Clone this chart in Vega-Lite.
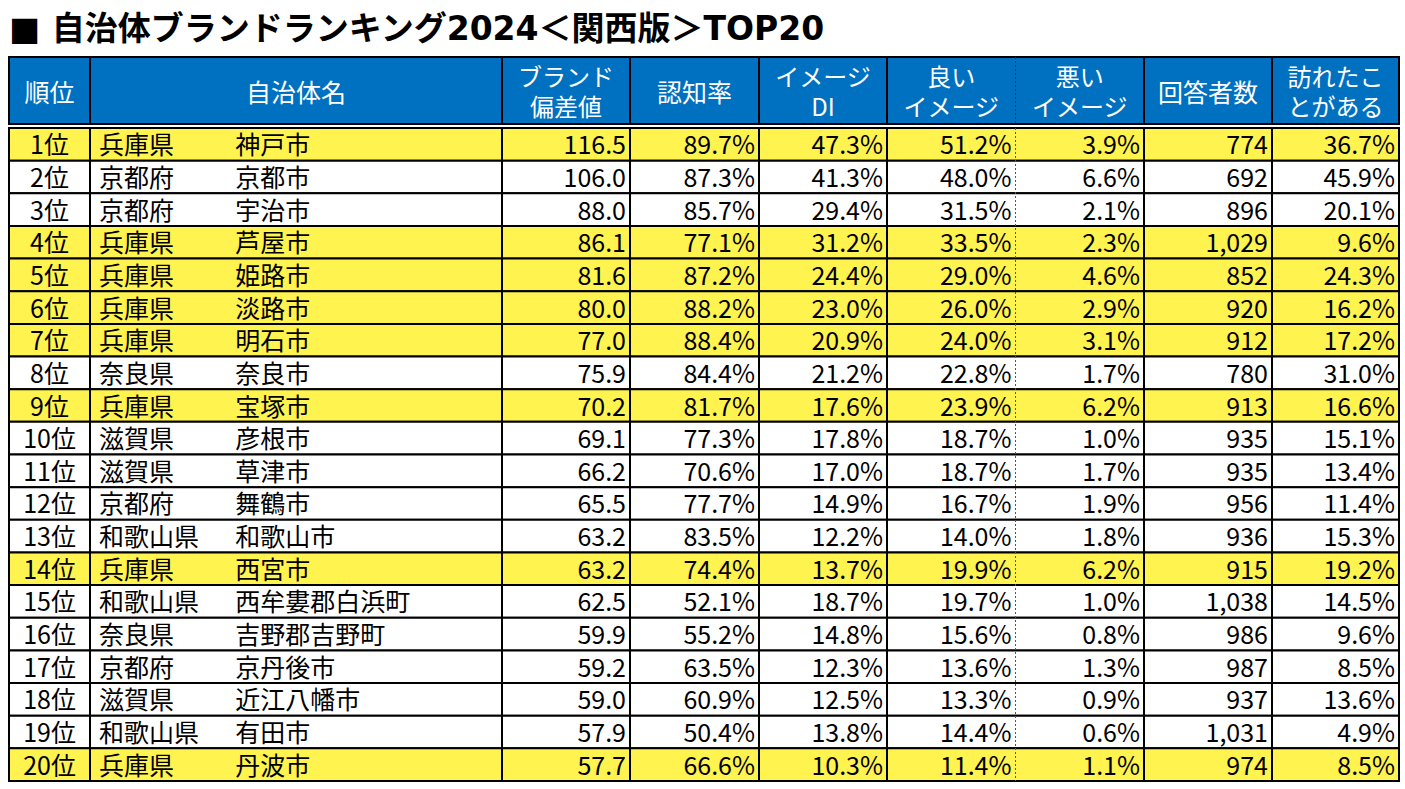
{
  "$schema": "https://vega.github.io/schema/vega-lite/v6.json",
  "padding": {"left": 7, "top": 13, "right": 0, "bottom": 0},
  "title": {"text": "■ 自治体ブランドランキング2024＜関西版＞TOP20", "anchor": "start", "frame": "group", "font": "DejaVu Sans, Noto Sans CJK JP", "fontSize": 33, "fontWeight": "bold", "color": "black", "offset": 9, "limit": 1300},
  "datasets": {
    "rows": [
      {"rank": 1, "pref": "兵庫県", "city": "神戸市", "brand": 116.5, "awareness": 0.897, "di": 0.473, "good": 0.512, "bad": 0.039, "n": 774, "visited": 0.367},
      {"rank": 2, "pref": "京都府", "city": "京都市", "brand": 106.0, "awareness": 0.873, "di": 0.413, "good": 0.480, "bad": 0.066, "n": 692, "visited": 0.459},
      {"rank": 3, "pref": "京都府", "city": "宇治市", "brand": 88.0, "awareness": 0.857, "di": 0.294, "good": 0.315, "bad": 0.021, "n": 896, "visited": 0.201},
      {"rank": 4, "pref": "兵庫県", "city": "芦屋市", "brand": 86.1, "awareness": 0.771, "di": 0.312, "good": 0.335, "bad": 0.023, "n": 1029, "visited": 0.096},
      {"rank": 5, "pref": "兵庫県", "city": "姫路市", "brand": 81.6, "awareness": 0.872, "di": 0.244, "good": 0.290, "bad": 0.046, "n": 852, "visited": 0.243},
      {"rank": 6, "pref": "兵庫県", "city": "淡路市", "brand": 80.0, "awareness": 0.882, "di": 0.230, "good": 0.260, "bad": 0.029, "n": 920, "visited": 0.162},
      {"rank": 7, "pref": "兵庫県", "city": "明石市", "brand": 77.0, "awareness": 0.884, "di": 0.209, "good": 0.240, "bad": 0.031, "n": 912, "visited": 0.172},
      {"rank": 8, "pref": "奈良県", "city": "奈良市", "brand": 75.9, "awareness": 0.844, "di": 0.212, "good": 0.228, "bad": 0.017, "n": 780, "visited": 0.310},
      {"rank": 9, "pref": "兵庫県", "city": "宝塚市", "brand": 70.2, "awareness": 0.817, "di": 0.176, "good": 0.239, "bad": 0.062, "n": 913, "visited": 0.166},
      {"rank": 10, "pref": "滋賀県", "city": "彦根市", "brand": 69.1, "awareness": 0.773, "di": 0.178, "good": 0.187, "bad": 0.010, "n": 935, "visited": 0.151},
      {"rank": 11, "pref": "滋賀県", "city": "草津市", "brand": 66.2, "awareness": 0.706, "di": 0.170, "good": 0.187, "bad": 0.017, "n": 935, "visited": 0.134},
      {"rank": 12, "pref": "京都府", "city": "舞鶴市", "brand": 65.5, "awareness": 0.777, "di": 0.149, "good": 0.167, "bad": 0.019, "n": 956, "visited": 0.114},
      {"rank": 13, "pref": "和歌山県", "city": "和歌山市", "brand": 63.2, "awareness": 0.835, "di": 0.122, "good": 0.140, "bad": 0.018, "n": 936, "visited": 0.153},
      {"rank": 14, "pref": "兵庫県", "city": "西宮市", "brand": 63.2, "awareness": 0.744, "di": 0.137, "good": 0.199, "bad": 0.062, "n": 915, "visited": 0.192},
      {"rank": 15, "pref": "和歌山県", "city": "西牟婁郡白浜町", "brand": 62.5, "awareness": 0.521, "di": 0.187, "good": 0.197, "bad": 0.010, "n": 1038, "visited": 0.145},
      {"rank": 16, "pref": "奈良県", "city": "吉野郡吉野町", "brand": 59.9, "awareness": 0.552, "di": 0.148, "good": 0.156, "bad": 0.008, "n": 986, "visited": 0.096},
      {"rank": 17, "pref": "京都府", "city": "京丹後市", "brand": 59.2, "awareness": 0.635, "di": 0.123, "good": 0.136, "bad": 0.013, "n": 987, "visited": 0.085},
      {"rank": 18, "pref": "滋賀県", "city": "近江八幡市", "brand": 59.0, "awareness": 0.609, "di": 0.125, "good": 0.133, "bad": 0.009, "n": 937, "visited": 0.136},
      {"rank": 19, "pref": "和歌山県", "city": "有田市", "brand": 57.9, "awareness": 0.504, "di": 0.138, "good": 0.144, "bad": 0.006, "n": 1031, "visited": 0.049},
      {"rank": 20, "pref": "兵庫県", "city": "丹波市", "brand": 57.7, "awareness": 0.666, "di": 0.103, "good": 0.114, "bad": 0.011, "n": 974, "visited": 0.085}
    ]
  },
  "spacing": 0,
  "vconcat": [
    {
      "spacing": 0,
      "bounds": "flush",
      "hconcat": [
        {"width": 81, "height": 67, "data": {"values": [{}]}, "view": {"fill": "#0070C0", "stroke": "black", "strokeWidth": 2},
         "mark": {"type": "text", "text": "順位", "color": "white", "fontSize": 25, "font": "Noto Sans CJK JP", "dy": 3}},
        {"width": 412, "height": 67, "data": {"values": [{}]}, "view": {"fill": "#0070C0", "stroke": "black", "strokeWidth": 2},
         "mark": {"type": "text", "text": "自治体名", "color": "white", "fontSize": 25, "letterSpacing": 3, "font": "Noto Sans CJK JP", "dy": 3}},
        {"width": 128, "height": 67, "data": {"values": [{}]}, "view": {"fill": "#0070C0", "stroke": "black", "strokeWidth": 2},
         "mark": {"type": "text", "text": ["ブランド", "偏差値"], "lineHeight": 30, "color": "white", "fontSize": 24, "font": "Noto Sans CJK JP", "dy": -12}},
        {"width": 129, "height": 67, "data": {"values": [{}]}, "view": {"fill": "#0070C0", "stroke": "black", "strokeWidth": 2},
         "mark": {"type": "text", "text": "認知率", "color": "white", "fontSize": 25, "font": "Noto Sans CJK JP", "dy": 3}},
        {"width": 128, "height": 67, "data": {"values": [{}]}, "view": {"fill": "#0070C0", "stroke": "black", "strokeWidth": 2},
         "mark": {"type": "text", "text": ["イメージ", "DI"], "lineHeight": 30, "color": "white", "fontSize": 24, "font": "Noto Sans CJK JP", "dy": -12}},
        {"width": 257, "height": 67, "data": {"values": [{}]}, "view": {"fill": "#0070C0", "stroke": "black", "strokeWidth": 2},
         "layer": [
           {"mark": {"type": "text", "text": ["良い", "イメージ"], "lineHeight": 30, "color": "white", "fontSize": 24, "font": "Noto Sans CJK JP", "dy": -12},
            "encoding": {"x": {"datum": 0.5, "type": "quantitative", "scale": {"domain": [0, 2], "nice": false, "zero": false}, "axis": null}}},
           {"mark": {"type": "text", "text": ["悪い", "イメージ"], "lineHeight": 30, "color": "white", "fontSize": 24, "font": "Noto Sans CJK JP", "dy": -12},
            "encoding": {"x": {"datum": 1.5, "type": "quantitative"}}},
           {"mark": {"type": "rule", "color": "#333333", "strokeWidth": 1, "strokeDash": [2, 2]},
            "encoding": {"x": {"datum": 1, "type": "quantitative"}}}
         ]},
        {"width": 128, "height": 67, "data": {"values": [{}]}, "view": {"fill": "#0070C0", "stroke": "black", "strokeWidth": 2},
         "mark": {"type": "text", "text": "回答者数", "color": "white", "fontSize": 25, "font": "Noto Sans CJK JP", "dy": 3}},
        {"width": 127, "height": 67, "data": {"values": [{}]}, "view": {"fill": "#0070C0", "stroke": "black", "strokeWidth": 2},
         "mark": {"type": "text", "text": ["訪れたこ", "とがある"], "lineHeight": 30, "color": "white", "fontSize": 24, "font": "Noto Sans CJK JP", "dy": -12}}
      ]
    },
    {
      "spacing": 0,
      "bounds": "flush",
      "hconcat": [
        {"width": 81, "height": 653, "data": {"name": "rows"}, "view": {"stroke": "black", "strokeWidth": 2},
         "transform": [{"calculate": "datum.rank + '位'", "as": "label"}],
         "encoding": {"y": {"field": "rank", "type": "ordinal", "axis": null, "scale": {"paddingInner": 0, "paddingOuter": 0}}},
         "layer": [
           {"mark": {"type": "rect", "stroke": "black", "strokeWidth": 2},
            "encoding": {"fill": {"condition": {"test": "datum.pref === '兵庫県'", "value": "#FFF350"}, "value": "white"}}},
           {"mark": {"type": "text", "fontSize": 25, "font": "Noto Sans CJK JP", "color": "black", "dy": 2},
            "encoding": {"text": {"field": "label"}}}
         ]},
        {"width": 412, "height": 653, "data": {"name": "rows"}, "view": {"stroke": "black", "strokeWidth": 2},
         "encoding": {"y": {"field": "rank", "type": "ordinal", "axis": null, "scale": {"paddingInner": 0, "paddingOuter": 0}}},
         "layer": [
           {"mark": {"type": "rect", "stroke": "black", "strokeWidth": 2},
            "encoding": {"fill": {"condition": {"test": "datum.pref === '兵庫県'", "value": "#FFF350"}, "value": "white"}}},
           {"mark": {"type": "text", "fontSize": 25, "font": "Noto Sans CJK JP", "color": "black", "align": "left", "dx": 9, "dy": 2},
            "encoding": {"text": {"field": "pref"},
              "x": {"datum": "都道府県", "type": "nominal", "bandPosition": 0, "axis": null, "scale": {"type": "band", "domain": ["都道府県", "市区町村", "余白"], "paddingInner": 0, "paddingOuter": 0}}}},
           {"mark": {"type": "text", "fontSize": 25, "font": "Noto Sans CJK JP", "color": "black", "align": "left", "dx": 8, "dy": 2},
            "encoding": {"text": {"field": "city"},
              "x": {"datum": "市区町村", "type": "nominal", "bandPosition": 0}}}
         ]},
        {"width": 128, "height": 653, "data": {"name": "rows"}, "view": {"stroke": "black", "strokeWidth": 2},
         "encoding": {"y": {"field": "rank", "type": "ordinal", "axis": null, "scale": {"paddingInner": 0, "paddingOuter": 0}}},
         "layer": [
           {"mark": {"type": "rect", "stroke": "black", "strokeWidth": 2},
            "encoding": {"fill": {"condition": {"test": "datum.pref === '兵庫県'", "value": "#FFF350"}, "value": "white"}}},
           {"mark": {"type": "text", "fontSize": 25, "font": "Noto Sans CJK JP", "color": "black", "align": "right", "dx": -4, "dy": 2},
            "encoding": {"x": {"value": "width"}, "text": {"field": "brand", "type": "quantitative", "format": ".1f"}}}
         ]},
        {"width": 129, "height": 653, "data": {"name": "rows"}, "view": {"stroke": "black", "strokeWidth": 2},
         "encoding": {"y": {"field": "rank", "type": "ordinal", "axis": null, "scale": {"paddingInner": 0, "paddingOuter": 0}}},
         "layer": [
           {"mark": {"type": "rect", "stroke": "black", "strokeWidth": 2},
            "encoding": {"fill": {"condition": {"test": "datum.pref === '兵庫県'", "value": "#FFF350"}, "value": "white"}}},
           {"mark": {"type": "text", "fontSize": 25, "font": "Noto Sans CJK JP", "color": "black", "align": "right", "dx": -4, "dy": 2},
            "encoding": {"x": {"value": "width"}, "text": {"field": "awareness", "type": "quantitative", "format": ".1%"}}}
         ]},
        {"width": 128, "height": 653, "data": {"name": "rows"}, "view": {"stroke": "black", "strokeWidth": 2},
         "encoding": {"y": {"field": "rank", "type": "ordinal", "axis": null, "scale": {"paddingInner": 0, "paddingOuter": 0}}},
         "layer": [
           {"mark": {"type": "rect", "stroke": "black", "strokeWidth": 2},
            "encoding": {"fill": {"condition": {"test": "datum.pref === '兵庫県'", "value": "#FFF350"}, "value": "white"}}},
           {"mark": {"type": "text", "fontSize": 25, "font": "Noto Sans CJK JP", "color": "black", "align": "right", "dx": -4, "dy": 2},
            "encoding": {"x": {"value": "width"}, "text": {"field": "di", "type": "quantitative", "format": ".1%"}}}
         ]},
        {"width": 257, "height": 653, "data": {"name": "rows"}, "view": {"stroke": "black", "strokeWidth": 2},
         "layer": [
           {"mark": {"type": "rect", "stroke": "black", "strokeWidth": 2},
            "encoding": {"y": {"field": "rank", "type": "ordinal", "axis": null, "scale": {"paddingInner": 0, "paddingOuter": 0}},
              "fill": {"condition": {"test": "datum.pref === '兵庫県'", "value": "#FFF350"}, "value": "white"}}},
           {"mark": {"type": "text", "fontSize": 25, "font": "Noto Sans CJK JP", "color": "black", "align": "right", "dx": -4, "dy": 2},
            "encoding": {"y": {"field": "rank", "type": "ordinal"},
              "x": {"datum": 1, "type": "quantitative", "axis": null, "scale": {"domain": [0, 2], "nice": false, "zero": false}},
              "text": {"field": "good", "type": "quantitative", "format": ".1%"}}},
           {"mark": {"type": "text", "fontSize": 25, "font": "Noto Sans CJK JP", "color": "black", "align": "right", "dx": -4, "dy": 2},
            "encoding": {"y": {"field": "rank", "type": "ordinal"},
              "x": {"datum": 2, "type": "quantitative"},
              "text": {"field": "bad", "type": "quantitative", "format": ".1%"}}},
           {"mark": {"type": "rule", "color": "#555555", "strokeWidth": 1, "strokeDash": [2, 2]},
            "encoding": {"x": {"datum": 1, "type": "quantitative"}}}
         ]},
        {"width": 128, "height": 653, "data": {"name": "rows"}, "view": {"stroke": "black", "strokeWidth": 2},
         "encoding": {"y": {"field": "rank", "type": "ordinal", "axis": null, "scale": {"paddingInner": 0, "paddingOuter": 0}}},
         "layer": [
           {"mark": {"type": "rect", "stroke": "black", "strokeWidth": 2},
            "encoding": {"fill": {"condition": {"test": "datum.pref === '兵庫県'", "value": "#FFF350"}, "value": "white"}}},
           {"mark": {"type": "text", "fontSize": 25, "font": "Noto Sans CJK JP", "color": "black", "align": "right", "dx": -4, "dy": 2},
            "encoding": {"x": {"value": "width"}, "text": {"field": "n", "type": "quantitative", "format": ","}}}
         ]},
        {"width": 127, "height": 653, "data": {"name": "rows"}, "view": {"stroke": "black", "strokeWidth": 2},
         "encoding": {"y": {"field": "rank", "type": "ordinal", "axis": null, "scale": {"paddingInner": 0, "paddingOuter": 0}}},
         "layer": [
           {"mark": {"type": "rect", "stroke": "black", "strokeWidth": 2},
            "encoding": {"fill": {"condition": {"test": "datum.pref === '兵庫県'", "value": "#FFF350"}, "value": "white"}}},
           {"mark": {"type": "text", "fontSize": 25, "font": "Noto Sans CJK JP", "color": "black", "align": "right", "dx": -4, "dy": 2},
            "encoding": {"x": {"value": "width"}, "text": {"field": "visited", "type": "quantitative", "format": ".1%"}}}
         ]}
      ]
    }
  ],
  "config": {"view": {"stroke": null}, "concat": {"spacing": 0}, "background": "white", "title": {"letterSpacing": 2.5}}
}
